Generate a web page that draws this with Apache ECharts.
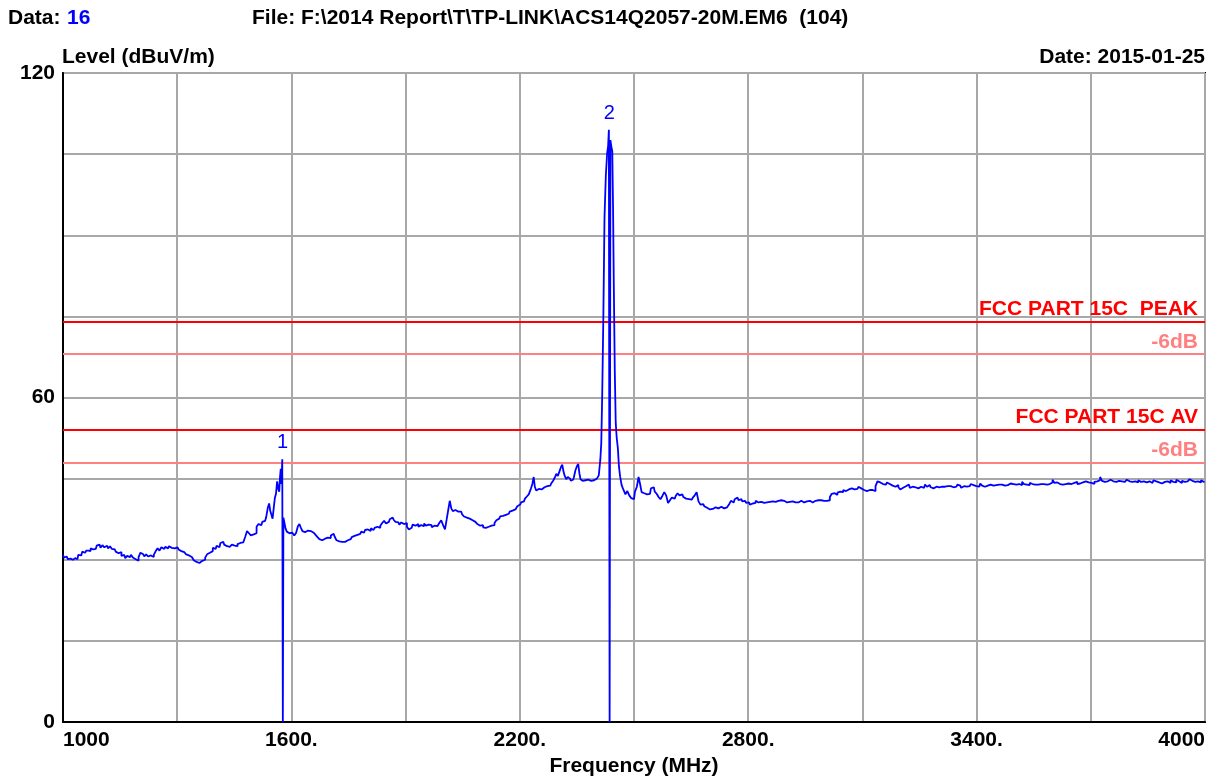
<!DOCTYPE html>
<html>
<head>
<meta charset="utf-8">
<script src="https://cdn.jsdelivr.net/npm/echarts@6/dist/echarts.min.js"></script>
<style>
html,body{margin:0;padding:0;background:#fff;}
#chart{width:1222px;height:776px;}
</style>
</head>
<body>
<div id="chart"></div>
<script>
// ---- data ----
const xTickValues = [1000, 1600, 2200, 2800, 3400, 4000];
const xTickLabels = ['1000', '1600.', '2200.', '2800.', '3400.', '4000'];
const yTickValues = [0, 60, 120];
const yTickLabels = ['0', '60', '120'];

const limitValues = [74, 68, 54, 48];
const limitLabels = ['FCC PART 15C  PEAK', '-6dB', 'FCC PART 15C AV', '-6dB'];
const limitColors = ['#ff0000', '#ff8080', '#ff0000', '#ff8080'];

const markerFreqs = [1577, 2435];
const markerLevels = [48.6, 109.5];
const markerLabels = ['1', '2'];

// [frequency MHz, level dBuV/m]
const traceData = [
[1000,30.9],[1005,30.4],[1010,30.6],[1015,30.1],[1020,30.2],[1026,30.0],[1032,30.3],[1038,30.1],[1042,30.9],[1048,30.8],
[1053,31.5],[1058,31.3],[1064,31.7],[1070,31.6],[1075,32.1],[1080,31.9],[1086,32.0],[1091,32.6],[1096,32.8],[1101,32.2],
[1106,32.7],[1111,32.3],[1116,32.6],[1121,32.1],[1126,32.5],[1131,32.0],[1136,31.9],[1141,31.5],[1146,31.2],[1151,31.4],
[1156,30.7],[1161,30.9],[1166,30.3],[1171,30.7],[1176,30.5],[1181,30.9],[1186,30.4],[1191,30.1],[1196,29.8],[1201,30.5],
[1206,31.3],[1211,31.0],[1216,30.6],[1221,31.0],[1226,30.6],[1231,30.8],[1236,30.5],[1241,30.9],[1246,31.6],[1251,32.1],
[1256,31.7],[1261,32.3],[1266,32.0],[1271,32.4],[1276,32.1],[1281,32.5],[1286,32.2],[1291,32.1],[1296,32.0],[1301,32.3],
[1306,31.9],[1311,31.6],[1316,31.4],[1321,31.4],[1326,31.0],[1331,30.8],[1336,30.5],[1341,30.2],[1346,29.9],[1351,29.6],
[1356,29.4],[1361,29.7],[1366,29.8],[1371,30.0],[1376,30.4],[1381,31.0],[1386,31.3],[1391,31.6],[1396,32.2],[1401,32.0],
[1406,32.6],[1411,32.3],[1416,33.1],[1421,33.3],[1426,32.8],[1431,32.5],[1436,32.4],[1441,32.3],[1446,32.8],[1451,32.6],
[1456,32.5],[1461,32.9],[1466,33.1],[1471,33.2],[1476,33.4],[1481,34.2],[1486,35.3],[1491,34.9],[1496,34.5],[1501,34.7],
[1506,34.9],[1511,36.1],[1516,36.6],[1521,36.4],[1526,37.0],[1531,37.2],[1536,37.8],[1540,39.6],[1543,40.4],[1546,39.0],
[1549,38.3],[1552,37.6],[1555,39.5],[1558,41.4],[1561,42.2],[1564,44.5],[1567,43.1],[1569,42.6],[1571,45.2],[1573,46.8],
[1575,44.0],[1577,48.6],[1578,0],[1580,37.8],[1583,36.9],[1586,35.8],[1590,35.2],[1595,34.9],[1600,35.0],[1605,34.7],
[1610,34.5],[1615,35.0],[1619,36.2],[1623,36.6],[1627,35.9],[1631,35.3],[1636,35.1],[1641,35.4],[1646,35.2],[1651,35.3],
[1656,35.0],[1661,34.8],[1666,34.6],[1671,34.2],[1676,33.8],[1681,33.6],[1686,33.9],[1691,34.0],[1696,34.1],[1701,34.0],
[1706,34.5],[1711,34.8],[1716,34.3],[1721,33.6],[1726,33.4],[1731,33.3],[1736,33.2],[1741,33.3],[1746,33.6],[1751,33.9],
[1756,33.8],[1761,34.2],[1766,34.4],[1771,34.6],[1776,34.5],[1781,34.8],[1786,35.2],[1791,35.0],[1796,35.5],[1801,35.6],
[1806,35.3],[1811,35.8],[1816,35.5],[1821,35.9],[1826,36.1],[1831,35.9],[1836,36.3],[1841,36.8],[1846,37.2],[1851,36.7],
[1856,37.0],[1861,37.5],[1866,37.8],[1871,37.4],[1876,37.0],[1881,36.9],[1886,36.5],[1891,36.9],[1896,36.6],[1901,36.8],
[1906,36.1],[1911,35.6],[1916,35.9],[1921,36.5],[1926,36.3],[1931,36.6],[1936,36.1],[1941,36.4],[1946,36.2],[1951,36.7],
[1956,36.3],[1961,36.5],[1966,36.4],[1971,36.0],[1976,36.3],[1981,36.2],[1986,36.0],[1991,36.8],[1996,37.3],[2001,36.4],
[2006,35.6],[2010,37.5],[2014,39.2],[2018,40.9],[2022,39.5],[2026,39.0],[2031,39.2],[2036,38.9],[2041,38.7],[2046,38.9],
[2051,38.4],[2056,38.0],[2061,37.8],[2066,37.6],[2071,37.9],[2076,37.3],[2081,37.0],[2086,36.8],[2091,36.6],[2096,36.3],
[2101,36.4],[2106,36.0],[2111,35.9],[2116,36.1],[2121,36.0],[2126,36.3],[2131,36.4],[2136,36.8],[2141,37.3],[2146,37.6],
[2151,38.0],[2156,38.1],[2161,38.3],[2166,38.4],[2171,38.5],[2176,38.9],[2181,39.1],[2186,39.3],[2191,39.5],[2196,39.9],
[2201,40.2],[2206,40.6],[2211,40.8],[2216,41.3],[2221,41.7],[2226,42.1],[2231,43.0],[2235,44.0],[2238,45.3],[2241,43.5],
[2245,42.8],[2250,43.1],[2255,43.0],[2260,43.3],[2265,43.4],[2270,43.6],[2275,43.8],[2280,43.7],[2285,44.1],[2290,44.6],
[2294,45.2],[2298,45.9],[2302,45.5],[2306,46.3],[2310,47.1],[2313,47.6],[2316,46.4],[2320,45.5],[2324,44.9],[2328,45.3],
[2332,45.0],[2336,44.6],[2340,44.8],[2344,45.2],[2348,46.5],[2352,47.3],[2355,47.7],[2358,46.0],[2361,44.9],[2365,44.6],
[2370,44.7],[2375,44.5],[2380,44.8],[2385,44.6],[2390,44.4],[2395,44.7],[2400,45.0],[2405,44.8],[2410,45.6],[2413,48.5],
[2415,51.5],[2418,60.5],[2421,75.0],[2424,93.2],[2428,101.0],[2431,105.2],[2433,106.5],[2435,109.5],[2437,0],[2439,107.6],
[2442,106.4],[2444,105.5],[2446,95.0],[2448,80.5],[2451,65.0],[2453,55.3],[2456,52.6],[2459,50.7],[2462,47.2],[2465,45.4],
[2470,43.8],[2475,42.9],[2480,42.1],[2485,42.7],[2490,41.9],[2495,41.4],[2500,41.2],[2505,42.6],[2510,43.5],[2514,45.3],
[2518,44.0],[2522,42.5],[2527,42.3],[2532,42.1],[2537,42.4],[2542,42.2],[2547,43.2],[2552,43.4],[2557,42.6],[2562,42.2],
[2567,41.6],[2572,41.2],[2577,41.8],[2582,42.5],[2587,41.9],[2592,40.5],[2597,41.0],[2602,41.5],[2607,41.3],[2612,41.8],
[2617,42.3],[2622,41.9],[2627,42.1],[2632,41.6],[2637,41.3],[2642,41.2],[2647,41.5],[2652,41.1],[2657,41.5],[2662,41.9],
[2667,42.5],[2672,40.8],[2677,40.2],[2682,40.3],[2687,39.9],[2692,39.6],[2697,39.3],[2702,39.6],[2707,39.4],[2712,39.7],
[2717,39.6],[2722,39.5],[2727,39.8],[2732,39.6],[2737,39.5],[2742,39.7],[2747,39.6],[2752,40.2],[2757,40.9],[2762,40.6],
[2767,41.2],[2772,41.5],[2777,41.0],[2782,41.2],[2787,40.8],[2792,40.9],[2797,40.5],[2802,40.6],[2807,40.2],[2812,40.4],
[2817,40.5],[2822,40.9],[2827,40.6],[2832,40.7],[2837,40.6],[2842,40.5],[2847,40.6],[2852,40.7],[2857,40.7],[2862,40.8],
[2867,40.6],[2872,40.7],[2877,40.9],[2882,40.8],[2887,41.0],[2892,40.9],[2897,40.6],[2902,40.6],[2907,40.7],[2912,40.5],
[2917,40.8],[2922,40.6],[2927,40.7],[2932,40.6],[2937,40.9],[2942,40.7],[2947,40.6],[2952,40.8],[2957,40.7],[2962,40.9],
[2967,40.6],[2972,40.8],[2977,40.9],[2982,41.0],[2987,40.8],[2992,41.0],[2997,40.9],[3002,41.1],[3007,40.9],[3012,41.0],
[3017,41.6],[3022,42.2],[3027,42.3],[3032,42.0],[3037,42.4],[3042,42.6],[3047,42.5],[3052,42.9],[3057,42.7],[3062,43.0],
[3067,42.8],[3072,43.2],[3077,43.0],[3082,43.3],[3087,43.1],[3092,43.5],[3097,43.2],[3102,42.9],[3107,43.1],[3112,42.7],
[3117,42.9],[3122,42.6],[3127,42.9],[3132,42.7],[3137,43.6],[3142,44.5],[3147,44.3],[3152,44.0],[3157,44.2],[3162,43.9],
[3167,44.3],[3172,44.0],[3177,43.7],[3182,43.9],[3187,43.5],[3192,43.8],[3197,43.4],[3202,43.0],[3207,43.3],[3212,43.6],
[3217,43.4],[3222,43.9],[3227,43.3],[3232,43.5],[3237,43.4],[3242,43.7],[3247,43.2],[3252,43.5],[3257,43.6],[3262,43.3],
[3267,43.9],[3272,43.5],[3277,43.8],[3282,43.4],[3287,43.2],[3292,43.5],[3297,43.6],[3302,43.4],[3307,43.5],[3312,43.7],
[3317,43.5],[3322,43.6],[3327,43.9],[3332,43.6],[3337,43.4],[3342,43.7],[3347,43.5],[3352,43.9],[3357,43.7],[3362,43.3],
[3367,43.6],[3372,43.5],[3377,43.8],[3382,43.6],[3387,44.0],[3392,43.8],[3397,43.6],[3402,43.4],[3407,43.5],[3412,44.1],
[3417,43.7],[3422,43.5],[3427,43.7],[3432,43.6],[3437,43.9],[3442,43.7],[3447,43.4],[3452,43.8],[3457,43.9],[3462,44.2],
[3467,43.9],[3472,43.7],[3477,43.9],[3482,43.8],[3487,44.1],[3492,43.9],[3497,44.0],[3502,43.9],[3507,43.7],[3512,44.0],
[3517,43.8],[3522,44.4],[3527,44.0],[3532,43.9],[3537,43.8],[3542,44.2],[3547,44.0],[3552,43.9],[3557,44.1],[3562,43.9],
[3567,44.0],[3572,44.2],[3577,44.0],[3582,43.9],[3587,44.1],[3592,44.0],[3597,44.3],[3602,44.8],[3607,44.2],[3612,44.3],
[3617,44.0],[3622,44.1],[3627,43.9],[3632,44.0],[3637,44.2],[3642,44.1],[3647,44.0],[3652,44.3],[3657,44.2],[3662,44.4],
[3667,44.0],[3672,44.1],[3677,44.3],[3682,44.2],[3687,44.5],[3692,44.3],[3697,44.4],[3702,44.2],[3707,44.0],[3712,44.4],
[3717,44.5],[3722,44.7],[3727,45.3],[3732,44.6],[3737,44.4],[3742,44.5],[3747,44.3],[3752,44.8],[3757,44.5],[3762,44.7],
[3767,44.4],[3772,44.6],[3777,44.3],[3782,44.5],[3787,44.4],[3792,44.3],[3797,44.8],[3802,44.5],[3807,44.4],[3812,44.6],
[3817,44.5],[3822,44.3],[3827,44.7],[3832,44.4],[3837,44.5],[3842,44.2],[3847,44.3],[3852,44.5],[3857,44.4],[3862,44.2],
[3867,44.7],[3872,44.5],[3877,44.3],[3882,44.6],[3887,44.1],[3892,44.4],[3897,44.6],[3902,44.5],[3907,44.2],[3912,44.7],
[3917,44.4],[3922,44.3],[3927,44.8],[3932,44.5],[3937,44.2],[3942,44.6],[3947,44.4],[3952,44.5],[3957,44.3],[3962,44.9],
[3967,44.6],[3972,44.4],[3977,44.2],[3982,44.5],[3987,44.3],[3992,44.7],[3997,44.4],[4000,44.5]
];

// ---- chart ----
const FONT = '"Liberation Sans", Arial, sans-serif';
const chart = echarts.init(document.getElementById('chart'), null, {renderer: 'canvas'});

const limitLines = limitValues.map((v, i) => ({
  yAxis: v,
  name: limitLabels[i],
  lineStyle: {color: limitColors[i], width: 2, type: 'solid'},
  label: {
    show: true,
    position: 'insideEndTop',
    formatter: limitLabels[i],
    color: limitColors[i],
    fontFamily: FONT,
    fontWeight: 'bold',
    fontSize: 21,
    distance: [7, 2]
  }
}));

const markerPoints = markerFreqs.map((f, i) => ({
  coord: [f, markerLevels[i]],
  value: markerLabels[i]
}));

const option = {
  animation: false,
  backgroundColor: '#ffffff',
  grid: {
    left: 63, right: 17, top: 73, bottom: 54,
    show: true, borderColor: '#000000', borderWidth: 2, backgroundColor: 'transparent'
  },
  xAxis: {
    type: 'value',
    min: 1000, max: 4000, interval: 300,
    axisLine: {show: true, lineStyle: {color: '#000', width: 2}},
    axisTick: {show: false},
    splitLine: {show: true, lineStyle: {color: '#a8a8a8', width: 2}},
    axisLabel: {
      show: true,
      margin: 8,
      color: '#000',
      fontFamily: FONT,
      fontWeight: 'bold',
      fontSize: 21,
      alignMinLabel: 'left',
      alignMaxLabel: 'right',
      formatter: function (v) {
        const idx = xTickValues.indexOf(Math.round(v));
        return idx >= 0 ? xTickLabels[idx] : '';
      }
    }
  },
  yAxis: {
    type: 'value',
    min: 0, max: 120, interval: 15,
    axisLine: {show: true, lineStyle: {color: '#000', width: 2}},
    axisTick: {show: false},
    splitLine: {show: true, lineStyle: {color: '#a8a8a8', width: 2}},
    axisLabel: {
      show: true,
      margin: 8,
      color: '#000',
      fontFamily: FONT,
      fontWeight: 'bold',
      fontSize: 21,
      formatter: function (v) {
        const idx = yTickValues.indexOf(Math.round(v));
        return idx >= 0 ? yTickLabels[idx] : '';
      }
    }
  },
  graphic: [
    {type: 'text', x: 8, y: 18, style: {text: 'Data:', fill: '#000', font: 'bold 21px ' + FONT, textAlign: 'left', textVerticalAlign: 'middle'}},
    {type: 'text', x: 67, y: 18, style: {text: '16', fill: '#0000ff', font: 'bold 21px ' + FONT, textAlign: 'left', textVerticalAlign: 'middle'}},
    {type: 'text', x: 252, y: 18, style: {text: 'File: F:\\2014 Report\\T\\TP-LINK\\ACS14Q2057-20M.EM6  (104)', fill: '#000', font: 'bold 21px ' + FONT, textAlign: 'left', textVerticalAlign: 'middle'}},
    {type: 'text', x: 62, y: 57, style: {text: 'Level (dBuV/m)', fill: '#000', font: 'bold 21px ' + FONT, textAlign: 'left', textVerticalAlign: 'middle'}},
    {type: 'text', x: 1205, y: 57, style: {text: 'Date: 2015-01-25', fill: '#000', font: 'bold 21px ' + FONT, textAlign: 'right', textVerticalAlign: 'middle'}},
    {type: 'text', x: 634, y: 766, style: {text: 'Frequency (MHz)', fill: '#000', font: 'bold 21px ' + FONT, textAlign: 'center', textVerticalAlign: 'middle'}}
  ],
  series: [
    {
      name: 'limits',
      type: 'line',
      data: [],
      z: 2,
      markLine: {
        silent: true,
        symbol: ['none', 'none'],
        data: limitLines
      }
    },
    {
      name: 'trace',
      type: 'line',
      data: traceData,
      step: 'middle',
      showSymbol: false,
      symbol: 'none',
      z: 5,
      lineStyle: {color: '#0000ff', width: 1.8},
      markPoint: {
        symbol: 'rect',
        symbolSize: 1,
        itemStyle: {color: 'rgba(0,0,0,0)'},
        label: {
          show: true,
          position: 'top',
          distance: 6,
          color: '#0000ff',
          fontFamily: FONT,
          fontSize: 20,
          formatter: function (p) { return p.value; }
        },
        data: markerPoints
      }
    }
  ]
};
chart.setOption(option);
</script>
</body>
</html>
